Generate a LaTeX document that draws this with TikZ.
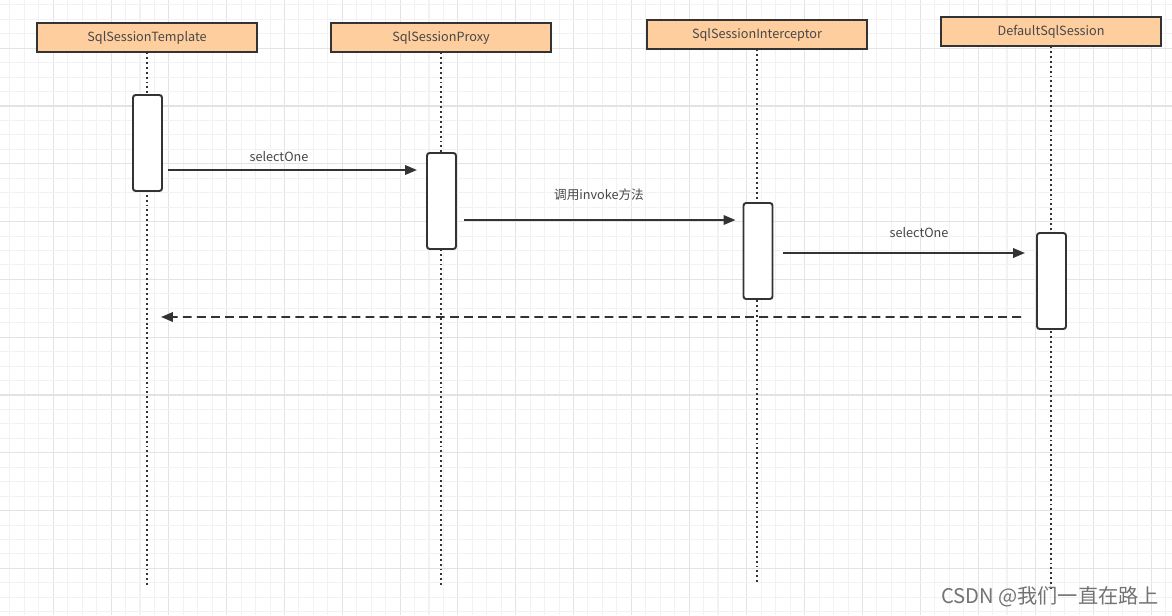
\documentclass[tikz,border=0pt]{standalone}
\usepackage{fontspec}
\setmainfont{Noto Sans CJK SC}
\usetikzlibrary{arrows.meta,positioning,calc}
\definecolor{boxfill}{HTML}{FFCE9F}
\definecolor{ink}{HTML}{333333}
\definecolor{gridminor}{HTML}{F2F2F2}
\definecolor{gridmajor}{HTML}{E3E3E3}
\begin{document}
\begin{tikzpicture}[x=0.02cm,y=-0.02cm,
    objbox/.style={draw=ink, line width=1.1pt, fill=boxfill, minimum width=4.4cm,
      minimum height=0.58cm, inner sep=0pt, outer sep=0pt,
      font=\fontsize{7.2}{8.5}\selectfont, text=ink!90},
    actbox/.style={draw=ink, line width=1.1pt, fill=white, rounded corners=1.5pt,
      minimum width=0.58cm, minimum height=1.92cm, inner sep=0pt, outer sep=0pt},
    life/.style={ink, line width=1.1pt, dash pattern=on 1.1pt off 1.7pt},
    msg/.style={ink, line width=1.1pt, -{Triangle[length=6.8pt,width=5.4pt]}},
    ret/.style={msg, dash pattern=on 5pt off 3pt},
    lbl/.style={font=\fontsize{7.2}{8.5}\selectfont, text=ink!90}]
  \fill[white] (0,0) rectangle (1172,615);
  \useasboundingbox (0,0) rectangle (1172,615);
  % grid
  \foreach \i in {0,...,80}{
    \pgfmathsetmacro{\gx}{9.95+14.45*\i}
    \pgfmathtruncatemacro{\gm}{mod(\i,4)}
    \ifnum\gm=3 \draw[gridmajor, line width=0.6pt] (\gx,0) -- (\gx,615);
    \else \draw[gridminor, line width=0.6pt] (\gx,0) -- (\gx,615); \fi
  }
  \foreach \i in {0,...,42}{
    \pgfmathsetmacro{\gy}{4.85+14.45*\i}
    \pgfmathtruncatemacro{\gm}{mod(\i,4)}
    \ifnum\gm=3 \draw[gridmajor, line width=0.6pt] (0,\gy) -- (1172,\gy);
    \else \draw[gridminor, line width=0.6pt] (0,\gy) -- (1172,\gy); \fi
  }
  % objects
  \node[objbox] (tmpl) at (147,37.5) {SqlSessionTemplate};
  \node[objbox] (proxy) at (441,37.5) {SqlSessionProxy};
  \node[objbox] (icpt) at (757,34.5) {SqlSessionInterceptor};
  \node[objbox] (dflt) at (1051,31.5) {DefaultSqlSession};
  % lifelines
  \coordinate (tmplend) at (147,588);
  \coordinate (proxyend) at (441,588);
  \coordinate (icptend) at (757,585);
  \coordinate (dfltend) at (1051,590);
  \draw[life] (tmpl.south) -- (tmplend);
  \draw[life] (proxy.south) -- (proxyend);
  \draw[life] (icpt.south) -- (icptend);
  \draw[life] (dflt.south) -- (dfltend);
  % activations
  \node[actbox] (a1) at (147.5,143) {};
  \node[actbox] (a2) at (441.5,201) {};
  \node[actbox] (a3) at (758,251) {};
  \node[actbox] (a4) at (1051.5,281) {};
  % messages
  \draw[msg] ([shift={(6,75)}]a1.north east) -- ([shift={(-10,17)}]a2.north west);
  \draw[msg] ([shift={(8,67)}]a2.north east) -- ([shift={(-8,17)}]a3.north west);
  \draw[msg] ([shift={(10,50)}]a3.north east) -- ([shift={(-12,20)}]a4.north west);
  \draw[ret] ([shift={(-16,84)}]a4.north west) -- ([shift={(14,265)}]tmpl.south);
  \node[lbl] (m1) at (279,157) {selectOne};
  \node[lbl] (m2) at (599,195) {调用invoke方法};
  \node[lbl] (m3) at (919,233) {selectOne};
  % watermark
  \node[font=\fontsize{11.5}{13}\selectfont, text=black!55] (mark) at (1050,597) {CSDN @我们一直在路上};
\end{tikzpicture}
\end{document}
